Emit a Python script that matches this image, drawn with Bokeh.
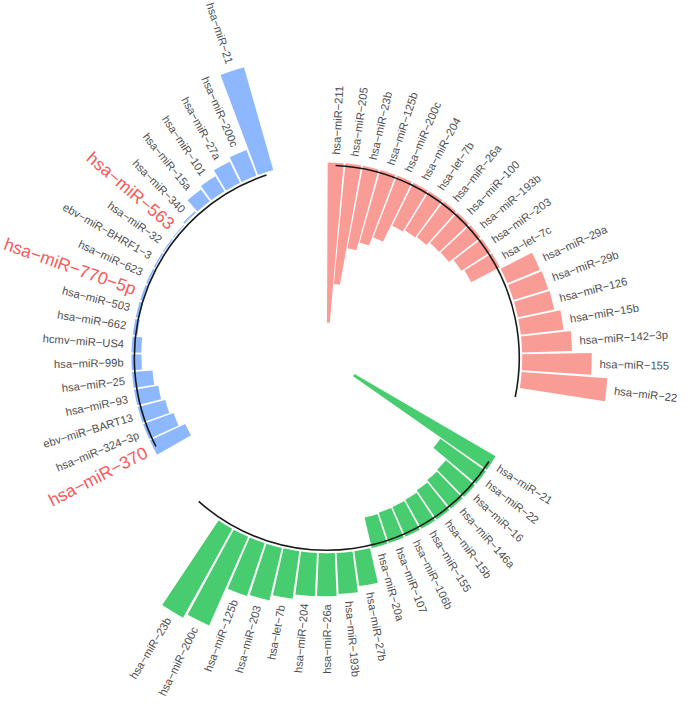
import math
from bokeh.plotting import figure
from bokeh.models import ColumnDataSource
from bokeh.core.properties import value
from bokeh.embed import file_html
from bokeh.resources import INLINE

# ---------------- data ----------------
red_names = ["hsa-miR-211", "hsa-miR-205", "hsa-miR-23b", "hsa-miR-125b", "hsa-miR-200c",
             "hsa-miR-204", "hsa-let-7b", "hsa-miR-26a", "hsa-miR-100", "hsa-miR-193b",
             "hsa-miR-203", "hsa-let-7c", "hsa-miR-29a", "hsa-miR-29b", "hsa-miR-126",
             "hsa-miR-15b", "hsa-miR-142-3p", "hsa-miR-155", "hsa-miR-22"]
red_values = [-4.10, -3.10, -2.15, -1.93, -1.70, -1.23, -1.18, -1.15, -1.05, -1.03,
              -0.90, -0.83, 0.90, 0.93, 0.95, 1.10, 1.28, 1.78, 2.20]

green_names = ["hsa-miR-21", "hsa-miR-22", "hsa-miR-16", "hsa-miR-146a", "hsa-miR-15b",
               "hsa-miR-155", "hsa-miR-106b", "hsa-miR-107", "hsa-miR-20a", "hsa-miR-27b",
               "hsa-miR-193b", "hsa-miR-26a", "hsa-miR-204", "hsa-let-7b", "hsa-miR-203",
               "hsa-miR-125b", "hsa-miR-200c", "hsa-miR-23b"]
green_values = [-4.18, -1.43, -0.98, -0.95, -0.90, -0.85, -0.83, -0.82, -0.80, 0.90,
                1.05, 1.10, 1.11, 1.23, 1.38, 1.43, 2.48, 2.60]

blue_names = ["hsa-miR-370", "hsa-miR-324-3p", "ebv-miR-BART13", "hsa-miR-93", "hsa-miR-25",
              "hsa-miR-99b", "hcmv-miR-US4", "hsa-miR-662", "hsa-miR-503", "hsa-miR-770-5p",
              "hsa-miR-623", "ebv-miR-BHRF1-3", "hsa-miR-32", "hsa-miR-563", "hsa-miR-340",
              "hsa-miR-15a", "hsa-miR-101", "hsa-miR-27a", "hsa-miR-200c", "hsa-miR-21"]
blue_values = [-1.00, -0.83, -0.73, -0.63, -0.53, -0.26, -0.25, -0.12, -0.09, -0.06,
               -0.05, -0.04, -0.03, -0.02, 0.05, 0.38, 0.45, 0.60, 0.70, 2.73]

highlighted = ["hsa-miR-370", "hsa-miR-770-5p", "hsa-miR-563"]

group_colors = ["#F8766D", "#00BA38", "#619CFF"]
group_first_slot = [1, 24, 47]
arc_start_slot = [1, 24, 47]
arc_end_slot = [20, 43, 66]
n_slots = 69
baseline_value = -0.075

# ---------------- geometry constants ----------------
BASE_R = 200.0     # radius of value 0
UNIT = 40.0        # radius per value unit
BAR_W = 0.9
LABEL_GAP = 8.0
STEP = 360.0 / n_slots
MINUS = "\u2212"   # R's pdf device draws '-' as a minus sign

groups = [(red_names, red_values), (green_names, green_values), (blue_names, blue_values)]

wx, wy, win, wout, wsa, wea, wcol = [], [], [], [], [], [], []
lx, ly, ltext, lang, lalign, lcol, lsize = [], [], [], [], [], [], []

for g, (names, vals) in enumerate(groups):
    for i, (nm, v) in enumerate(zip(names, vals)):
        slot = group_first_slot[g] + i
        th = (slot - 0.5) * STEP
        r_end = BASE_R + v * UNIT
        wx.append(0); wy.append(0)
        win.append(min(BASE_R, r_end)); wout.append(max(BASE_R, r_end))
        wsa.append(math.radians(90 - th - BAR_W * STEP / 2))
        wea.append(math.radians(90 - th + BAR_W * STEP / 2))
        wcol.append(group_colors[g])
        rl = max(BASE_R, r_end) + LABEL_GAP
        t = math.radians(th)
        lx.append(rl * math.sin(t)); ly.append(rl * math.cos(t))
        ltext.append(nm.replace("-", MINUS))
        if th < 180:
            lang.append(math.radians(90 - th)); lalign.append("left")
        else:
            lang.append(math.radians(270 - th)); lalign.append("right")
        if nm in highlighted and g == 2:
            lcol.append("#F55A5A"); lsize.append("17.5px")
        else:
            lcol.append("#4f4f4f"); lsize.append("11.2px")

# figure is 678x698 px and shows a 694x714 unit window around the centre
p = figure(width=678, height=698, x_range=(-334, 360), y_range=(-348.5, 365.5),
           output_backend="svg", toolbar_location=None,
           x_axis_type=None, y_axis_type=None, min_border=0)
p.grid.visible = False
p.outline_line_color = None
p.background_fill_color = "white"

wsrc = ColumnDataSource(dict(x=wx, y=wy, inner=win, outer=wout, sa=wsa, ea=wea, color=wcol))
p.annular_wedge(x="x", y="y", inner_radius="inner", outer_radius="outer",
                start_angle="sa", end_angle="ea", fill_color="color", fill_alpha=0.72,
                line_color=None, source=wsrc)

arc_r = [BASE_R + baseline_value * UNIT] * 3
arc_sa = [math.radians(90 - (e - 0.5) * STEP) for e in arc_end_slot]
arc_ea = [math.radians(90 - (s - 0.5) * STEP) for s in arc_start_slot]
p.arc(x=[0, 0, 0], y=[0, 0, 0], radius=arc_r, start_angle=arc_sa, end_angle=arc_ea,
      line_color="#1a1a1a", line_width=1.6)

lsrc = ColumnDataSource(dict(x=lx, y=ly, text=ltext, angle=lang, align=lalign,
                             color=lcol, size=lsize))
p.text(x="x", y="y", text="text", angle="angle", text_align="align",
       text_baseline="middle", text_color="color", text_font_size="size",
       text_font=value("Liberation Sans"), source=lsrc)

open("out.html", "w").write(file_html(p, INLINE))
